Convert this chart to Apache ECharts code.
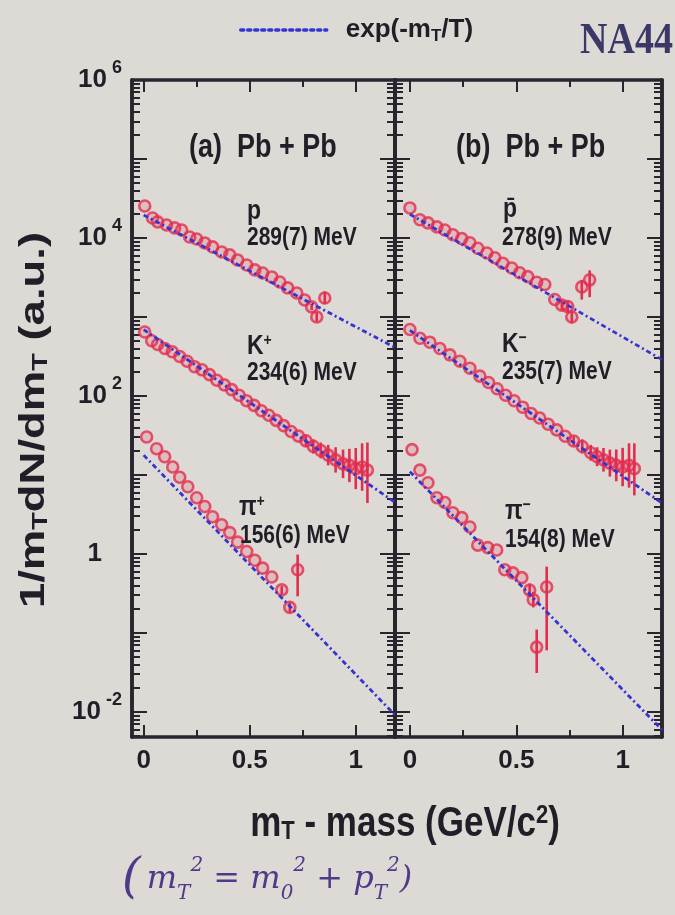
<!DOCTYPE html>
<html><head><meta charset="utf-8">
<script src="https://cdn.jsdelivr.net/npm/echarts@6/dist/echarts.min.js"></script>
<style>html,body{margin:0;padding:0;background:#dddad5;}#c{width:675px;height:915px;}</style>
</head><body><div id="c"></div>
<script>
// ---------- data ----------
const pX = [0.005,0.042,0.066,0.108,0.146,0.179,0.217,0.25,0.288,0.325,0.368,0.406,0.443,0.486,0.524,0.561,0.604,0.642,0.679,0.722,0.759,0.792,0.816,0.854];
const pY = [25400,17900,16000,14600,13400,12600,10300,9700,8650,7700,6650,6100,5270,4550,3940,3600,3210,2770,2330,2010,1640,1340,1000,1740];
const pErr = [[0.792,1220,1470],[0.816,870,1150],[0.854,1450,2100]];

const kpX = [0.005,0.038,0.066,0.10,0.135,0.17,0.205,0.24,0.275,0.31,0.345,0.38,0.415,0.45,0.485,0.52,0.555,0.59,0.625,0.66,0.695,0.73,0.765,0.80,0.835,0.87,0.905,0.94,0.97,1.0,1.03,1.055];
const kpY = [645,500,447,398,363,316,275,234,214,186,158,138,120,102,87,76,65,57,49,42,35.5,31,27,23,20.4,17.8,15.5,13.8,13.2,12,12.6,11.5];
const kpErr = [[0.765,22.4,32.4],[0.80,18.6,28.2],[0.835,16.2,25.7],[0.87,13.2,24.0],[0.905,10.7,22.4],[0.94,9.1,20.9],[0.97,8.1,21.4],[1.0,6.6,21.9],[1.03,6.3,25.1],[1.055,4.4,25.7]];

const pipX = [0.014,0.061,0.099,0.137,0.170,0.208,0.25,0.288,0.325,0.368,0.406,0.443,0.486,0.524,0.561,0.604,0.651,0.689,0.726];
const pipY = [30.2,21.4,17.0,12.6,9.33,7.08,5.13,3.98,2.95,2.34,1.86,1.41,1.07,0.83,0.66,0.51,0.35,0.21,0.63];
const pipErr = [[0.651,0.31,0.39],[0.689,0.18,0.245],[0.726,0.29,0.98]];

const pbX = [0.0,0.047,0.085,0.127,0.164,0.202,0.244,0.282,0.319,0.362,0.399,0.437,0.479,0.516,0.554,0.596,0.634,0.681,0.714,0.742,0.761,0.808,0.845];
const pbY = [24000,17000,15500,13800,12600,11000,9800,8700,7400,6460,5620,4790,4170,3630,3240,2750,2570,1660,1410,1350,1000,2400,2950];
const pbErr = [[0.714,1230,1620],[0.742,1140,1600],[0.761,830,1200],[0.808,1660,2950],[0.845,1780,3890]];

const kmX = [0.0,0.047,0.094,0.141,0.188,0.235,0.282,0.329,0.37,0.41,0.45,0.49,0.53,0.57,0.61,0.65,0.69,0.73,0.77,0.81,0.85,0.88,0.91,0.94,0.97,1.0,1.03,1.055];
const kmY = [692,537,479,398,331,275,224,178,148,123,102,87,72,60,52.5,43.7,37.2,30.9,26.9,22.9,19.1,17.0,15.5,14.1,13.2,12.6,13.2,12.0];
const kmErr = [[0.77,23.4,30.9],[0.81,18.6,28.2],[0.85,15.1,24.0],[0.88,12.9,22.4],[0.91,11.0,21.9],[0.94,9.5,20.9],[0.97,8.3,21.0],[1.0,7.2,22.0],[1.03,6.9,25.1],[1.055,5.5,25.1]];

const pimX = [0.01,0.047,0.085,0.127,0.164,0.202,0.244,0.282,0.319,0.366,0.408,0.446,0.484,0.526,0.563,0.580,0.596,0.643];
const pimY = [20.9,11.5,7.94,5.13,4.47,3.31,2.88,2.19,1.29,1.20,1.12,0.63,0.575,0.50,0.347,0.263,0.066,0.38];
const pimErr = [[0.563,0.29,0.42],[0.58,0.21,0.33],[0.596,0.031,0.11],[0.643,0.060,0.69]];

// exponential fits (straight lines on the log axis): end points
const fitX = [0, 1.185];
const fitP = [19500, 410];
const fitKp = [692, 4.5];
const fitPip = [17.8, 0.0091];
const fitPb = [20000, 288];
const fitKm = [676, 4.4];
const fitPim = [11, 0.0059];

// axis ticks / labels
const xMajor = [0, 0.5, 1];
const xMinor = [0.25, 0.75];
const yLabelVals = [0.01, 1, 100, 10000, 1000000];
const yMajor = [0.01, 0.1, 1, 10, 100, 1000, 10000, 100000, 1000000];
const yMinor = [];
for (let k = -3; k <= 5; k++) for (let m = 2; m <= 9; m++) yMinor.push(+(m * Math.pow(10, k)).toPrecision(3));

// ---------- styles ----------
const FONT = 'Liberation Sans';
const INK = '#221d26';
const FRAME = '#29242e';
const RED = '#e32d4f';
const BLUE = '#3434d4';
const Y_MIN = 0.0048, Y_MAX = 1e6;
const X_MAX = 1.185;

const zip = (a, b) => a.map((v, i) => [v, b[i]]);

function xAx(grid, pos, vals, len, line, labels, min) {
  return {
    type: 'value', gridIndex: grid, position: pos, min: min, max: X_MAX,
    axisLine: {show: line, onZero: false, lineStyle: {color: FRAME, width: 3.5}},
    axisTick: {show: true, inside: true, length: len, customValues: vals, lineStyle: {color: FRAME, width: 2}},
    axisLabel: labels ? {show: true, customValues: xMajor, margin: 11, color: INK, fontFamily: FONT,
      fontSize: 26, fontWeight: 'bold', formatter: v => String(v)} : {show: false},
    splitLine: {show: false}
  };
}
function yAx(grid, pos, vals, len, labels) {
  return {
    type: 'log', logBase: 10, gridIndex: grid, position: pos, min: Y_MIN, max: Y_MAX,
    axisLine: {show: true, onZero: false, lineStyle: {color: FRAME, width: 3.5}},
    axisTick: {show: true, inside: true, length: len, customValues: vals, lineStyle: {color: FRAME, width: 2}},
    axisLabel: labels ? {
      show: true, customValues: yLabelVals, margin: 10,
      formatter: v => {
        const e = Math.round(Math.log10(v));
        return e === 0 ? '{b|1}{w| }' : '{b|10}{s|' + e + '}';
      },
      rich: {
        b: {fontFamily: FONT, fontSize: 26, fontWeight: 'bold', color: INK, lineHeight: 42},
        s: {fontFamily: FONT, fontSize: 18, fontWeight: 'bold', color: INK, verticalAlign: 'top', lineHeight: 22, padding: [0, 0, 0, 5]},
        w: {width: 20}
      }
    } : {show: false},
    splitLine: {show: false}
  };
}

const xAxes = [
  xAx(0, 'bottom', xMajor, 12, true, true, -0.055), xAx(0, 'bottom', xMinor, 7, false, false, -0.055),
  xAx(0, 'top', xMajor, 12, true, false, -0.055), xAx(0, 'top', xMinor, 7, false, false, -0.055),
  xAx(1, 'bottom', xMajor, 12, true, true, -0.07), xAx(1, 'bottom', xMinor, 7, false, false, -0.07),
  xAx(1, 'top', xMajor, 12, true, false, -0.07), xAx(1, 'top', xMinor, 7, false, false, -0.07)
];
const yAxes = [
  yAx(0, 'left', yMajor, 15, true), yAx(0, 'left', yMinor, 8, false),
  yAx(0, 'right', yMajor, 15, false), yAx(0, 'right', yMinor, 8, false),
  yAx(1, 'left', yMajor, 15, false), yAx(1, 'left', yMinor, 8, false),
  yAx(1, 'right', yMajor, 15, false), yAx(1, 'right', yMinor, 8, false)
];

const FITNAME = 'exp(-m_T/T)';
function pts(name, xs, ys, xi, yi) {
  return {name: name, type: 'scatter', xAxisIndex: xi, yAxisIndex: yi, data: zip(xs, ys), z: 3,
    symbol: 'circle', symbolSize: 11,
    itemStyle: {color: 'rgba(227,45,79,0.2)', borderColor: RED, borderWidth: 2.6}};
}
function errs(name, data, xi, yi) {
  return {name: name, type: 'custom', xAxisIndex: xi, yAxisIndex: yi, data: data, z: 2,
    encode: {x: 0, y: [1, 2]},
    renderItem: (params, api) => {
      const a = api.coord([api.value(0), api.value(1)]);
      const b = api.coord([api.value(0), api.value(2)]);
      return {type: 'line', shape: {x1: a[0], y1: a[1], x2: b[0], y2: b[1]}, style: {stroke: RED, lineWidth: 2.6}};
    }};
}
function fit(ys, xi, yi) {
  return {name: FITNAME, type: 'line', xAxisIndex: xi, yAxisIndex: yi, data: zip(fitX, ys), z: 4,
    symbol: 'none', silent: true,
    lineStyle: {color: BLUE, width: 2.8, type: [5, 3, 2, 3]}};
}

const series = [
  fit(fitP, 0, 0), fit(fitKp, 0, 0), fit(fitPip, 0, 0),
  fit(fitPb, 4, 4), fit(fitKm, 4, 4), fit(fitPim, 4, 4),
  pts('p', pX, pY, 0, 0), errs('p err', pErr, 0, 0),
  pts('K+', kpX, kpY, 0, 0), errs('K+ err', kpErr, 0, 0),
  pts('pi+', pipX, pipY, 0, 0), errs('pi+ err', pipErr, 0, 0),
  pts('pbar', pbX, pbY, 4, 4), errs('pbar err', pbErr, 4, 4),
  pts('K-', kmX, kmY, 4, 4), errs('K- err', kmErr, 4, 4),
  pts('pi-', pimX, pimY, 4, 4), errs('pi- err', pimErr, 4, 4)
];

const SY = 1.2;   // the scanned figure is slightly stretched vertically
const T = (txt, x, y, size) => ({
  type: 'text', x: x, y: y, z: 10, scaleY: SY,
  style: {text: txt, fill: INK, font: 'bold ' + size + 'px "' + FONT + '"', align: 'left', verticalAlign: 'middle',
    rich: {
      sp: {fontFamily: FONT, fontWeight: 'bold', fontSize: Math.round(size * 0.6), fill: INK, verticalAlign: 'top', lineHeight: size},
      n: {fontFamily: FONT, fontWeight: 'bold', fontSize: size, fill: INK}
    }}
});

const graphics = [
  T('(a)  Pb + Pb', 189, 148, 27),
  T('p', 247, 211, 23),
  T('289(7) MeV', 247, 238, 21),
  T('{n|K}{sp|+}', 247, 346, 23),
  T('234(6) MeV', 247, 373, 21),
  T('{n|π}{sp|+}', 239, 507, 23),
  T('156(6) MeV', 240, 536, 21),
  T('(b)  Pb + Pb', 456, 148, 27),
  T('p\u0304', 503, 209, 23),
  T('278(9) MeV', 502, 238, 21),
  T('{n|K}{sp|−}', 502, 344, 23),
  T('235(7) MeV', 502, 372, 21),
  T('{n|π}{sp|−}', 505, 511, 23),
  T('154(8) MeV', 505, 540, 21),
  // y axis title (stretched along its length like the scan)
  {type: 'text', x: 34, y: 420, z: 10, rotation: Math.PI / 2, scaleX: 1.3, style: {
    text: '{a|1/m}{s|T}{a|dN/dm}{s|T}{a| (a.u.)}', align: 'center', verticalAlign: 'middle',
    rich: {
      a: {fontFamily: FONT, fontWeight: 'bold', fontSize: 35, fill: INK},
      s: {fontFamily: FONT, fontWeight: 'bold', fontSize: 22, fill: INK, verticalAlign: 'bottom', lineHeight: 34}
    }}},
  // x axis title
  {type: 'text', x: 405, y: 824, z: 10, scaleY: SY, style: {
    text: '{a|m}{s|T}{a| - mass (GeV/c}{p|2}{a|)}', align: 'center', verticalAlign: 'middle',
    rich: {
      a: {fontFamily: FONT, fontWeight: 'bold', fontSize: 35, fill: INK},
      s: {fontFamily: FONT, fontWeight: 'bold', fontSize: 22, fill: INK, verticalAlign: 'bottom', lineHeight: 32},
      p: {fontFamily: FONT, fontWeight: 'bold', fontSize: 22, fill: INK, verticalAlign: 'top', lineHeight: 32}
    }}},
  {type: 'text', x: 580, y: 42, z: 10, scaleY: 1.15, style: {text: 'NA44', fill: '#3b3868',
    font: 'bold 38px "Liberation Serif"', align: 'left', verticalAlign: 'middle'}},
  {type: 'text', x: 122, y: 880, z: 10, style: {
    text: '{a|(}{b|m}{s|T}{p|2}{b| = m}{s|0}{p|2}{b| + p}{s|T}{p|2}{b|)}', align: 'left', verticalAlign: 'middle',
    rich: {
      a: {fontFamily: 'DejaVu Serif', fontStyle: 'italic', fontSize: 48, fill: '#4d3a88', padding: [0, 6, 0, 0]},
      b: {fontFamily: 'DejaVu Serif', fontStyle: 'italic', fontSize: 32, fill: '#4d3a88'},
      s: {fontFamily: 'DejaVu Serif', fontStyle: 'italic', fontSize: 20, fill: '#4d3a88', verticalAlign: 'bottom', lineHeight: 40},
      p: {fontFamily: 'DejaVu Serif', fontStyle: 'italic', fontSize: 20, fill: '#4d3a88', verticalAlign: 'top', lineHeight: 40}
    }}}
];

const chart = echarts.init(document.getElementById('c'), null, {renderer: 'canvas'});
chart.setOption({
  backgroundColor: '#dddad5',
  animation: false,
  grid: [
    {left: 132, top: 80, width: 263, height: 657},
    {left: 395, top: 80, width: 267, height: 657}
  ],
  legend: {
    data: [FITNAME], left: 234, top: 12, itemWidth: 86, itemHeight: 16, selectedMode: false,
    itemStyle: {opacity: 0, borderWidth: 0},
    lineStyle: {type: [3, 4], width: 3.5, cap: 'round', color: BLUE},
    formatter: () => '{f|exp(-m}{s|T}{a|/T)}',
    textStyle: {rich: {
      f: {fontFamily: FONT, fontWeight: 'bold', fontSize: 26, color: INK, padding: [0, 0, 0, 14]},
      a: {fontFamily: FONT, fontWeight: 'bold', fontSize: 26, color: INK},
      s: {fontFamily: FONT, fontWeight: 'bold', fontSize: 17, color: INK, verticalAlign: 'bottom', lineHeight: 30}
    }}
  },
  xAxis: xAxes,
  yAxis: yAxes,
  series: series,
  graphic: graphics
});
</script>
</body></html>
